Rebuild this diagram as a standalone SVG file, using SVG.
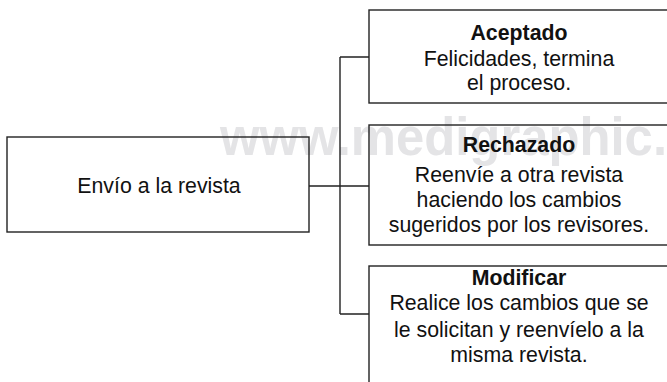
<svg xmlns="http://www.w3.org/2000/svg" width="667" height="382" viewBox="0 0 667 382">
<style>
.box{fill:none;stroke:#222;stroke-width:1.4}
.ln{fill:none;stroke:#222;stroke-width:1.4}
.t{font-family:"Liberation Sans",Arial,sans-serif;font-size:21.3px;fill:#111;text-anchor:middle}
.b{font-weight:bold}
.wm{font-family:"Liberation Sans",Arial,sans-serif;font-size:54px;font-weight:bold;fill:#e4e4e6}
</style>
<rect width="667" height="382" fill="#fff"/>
<text class="wm" x="220" y="155" textLength="447" lengthAdjust="spacingAndGlyphs">www.medigraphic.</text>
<g id="connectors">
<path class="ln" d="M309 186H340M340 57V314M340 57H369M340 186H369M340 314H369"/>
</g>
<g id="envio">
<rect class="box" x="7" y="137" width="302" height="95"/>
<text class="t" x="159" y="193">Envío a la revista</text>
</g>
<g id="aceptado">
<rect class="box" x="369" y="10" width="302" height="93"/>
<text class="t b" x="519" y="40">Aceptado</text>
<text class="t" x="519" y="66">Felicidades, termina</text>
<text class="t" x="519" y="90">el proceso.</text>
</g>
<g id="rechazado">
<rect class="box" x="369" y="125" width="302" height="120"/>
<text class="t b" x="519" y="152">Rechazado</text>
<text class="t" x="519" y="182">Reenvíe a otra revista</text>
<text class="t" x="519" y="207">haciendo los cambios</text>
<text class="t" x="519" y="232">sugeridos por los revisores.</text>
</g>
<g id="modificar">
<rect class="box" x="369" y="266" width="302" height="130"/>
<text class="t b" x="519" y="285">Modificar</text>
<text class="t" x="519" y="310">Realice los cambios que se</text>
<text class="t" x="519" y="337">le solicitan y reenvíelo a la</text>
<text class="t" x="519" y="362">misma revista.</text>
</g>
</svg>
